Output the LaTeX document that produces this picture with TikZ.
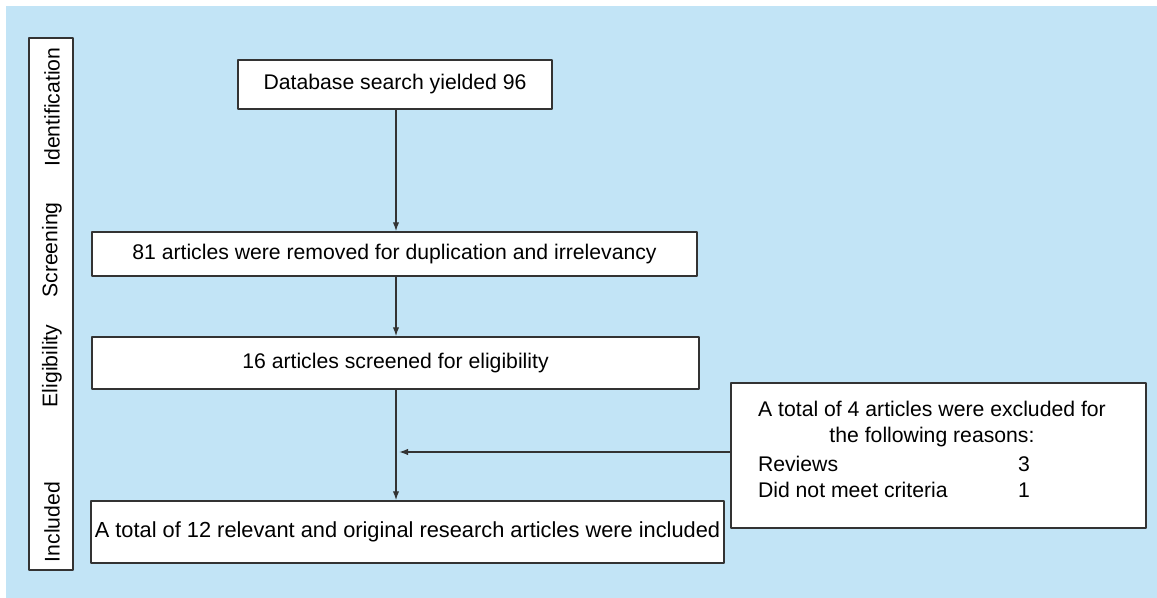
\documentclass[tikz,border=0pt]{standalone}
\usepackage{fontspec}
\setmainfont{Liberation Sans}
\usetikzlibrary{arrows.meta,positioning}
\definecolor{bgblue}{RGB}{194,228,246}
\definecolor{lineg}{RGB}{51,51,51}
\tikzset{
	box/.style={draw=lineg,fill=white,line width=0.7pt,inner sep=0pt},
	phase/.style={rotate=90,inner sep=0pt},
	arr/.style={->,draw=lineg,line width=0.7pt}
}
\begin{document}
\begin{tikzpicture}[x=0.5pt,y=-0.5pt,>={Latex[length=4.5pt,width=3.2pt]},line join=round,font=\fontsize{10.6}{13}\selectfont]
	% Khung nền
	\useasboundingbox (0,0) rectangle (1157,598);
	\fill[bgblue] (6,6) rectangle (1157,598);
	% Cột các giai đoạn
	\node[box,minimum width=22pt,minimum height=266pt] (stages) at (51,304) {};
	\node[phase] (lid) at (52,107) {Identification};
	\node[phase] (lscr) at (52,250) {Screening};
	\node[phase] (lelig) at (52,366) {Eligibility};
	\node[phase] (lincl) at (52,522) {Included};
	% Các hộp chính
	\node[box,minimum width=157pt,minimum height=24.5pt] (db) at (395,84.5) {Database search yielded 96};
	\node[box,minimum width=302.5pt,minimum height=22pt] (rem) at (394.5,254) {81 articles were removed for duplication and irrelevancy};
	\node[box,minimum width=303.5pt,minimum height=26pt] (elig) at (395.5,363) {16 articles screened for eligibility};
	\node[box,minimum width=316.5pt,minimum height=31pt,font=\fontsize{10.9}{13}\selectfont] (incl) at (407.5,532) {A total of 12 relevant and original research articles were included};
	\node[box,minimum width=207.5pt,minimum height=72.5pt] (excl) at (938.5,455.5) {};
	\node[align=center,inner sep=0pt] (excltxt) at (932,449) {A total of 4 articles were excluded for\\
		the following reasons:\\[1.5pt]
		\makebox[174pt][l]{\makebox[130pt][l]{Reviews}3}\\
		\makebox[174pt][l]{\makebox[130pt][l]{Did not meet criteria}1}};
	% Mũi tên
	\coordinate (mid) at (396,452);
	\draw[arr] (db.south -| mid) -- (rem.north -| mid);
	\draw[arr] (rem.south -| mid) -- (elig.north -| mid);
	\draw[arr] (elig.south -| mid) -- (incl.north -| mid);
	\draw[arr,shorten >=1.5pt] (excl.west |- mid) -- (mid);
\end{tikzpicture}
\end{document}
